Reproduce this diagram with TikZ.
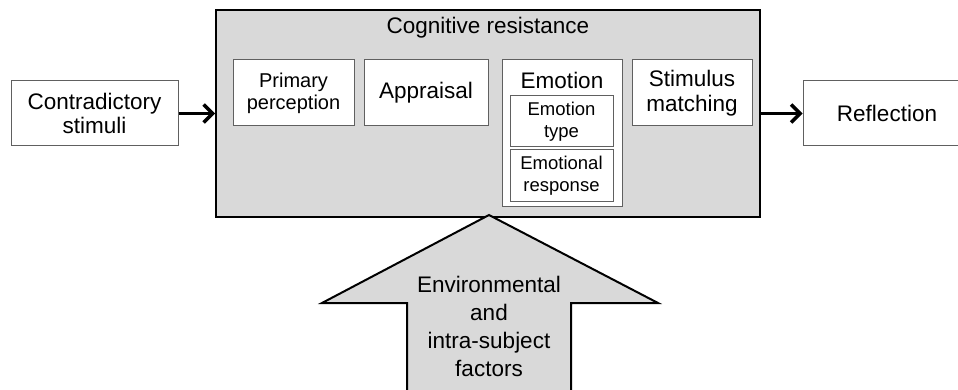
\documentclass[tikz,border=0pt]{standalone}
\usepackage{fontspec}
\setmainfont{Liberation Sans}
\usetikzlibrary{arrows.meta}
\definecolor{panel}{HTML}{D9D9D9}
\definecolor{edge}{HTML}{606060}
\tikzset{
  x=1pt, y=-1pt,
  bigfont/.style={font=\fontsize{22.5}{27.5}\selectfont},
  midfont/.style={font=\fontsize{20}{24}\selectfont},
  smallfont/.style={font=\fontsize{18.5}{22}\selectfont},
  box/.style={draw=edge, line width=1pt, fill=white, inner sep=0pt, align=center},
  panelbox/.style={draw=black, line width=2pt, fill=panel, inner sep=0pt},
  conn/.style={line width=3.5pt, -{Straight Barb[length=9pt,width=18pt,line width=3.5pt]}},
}
\begin{document}
\begin{tikzpicture}
\useasboundingbox (0,0) rectangle (958,390);
\clip (0,0) rectangle (958,390);

% main panel
\node[panelbox, minimum width=544pt, minimum height=207pt] (cog) at (488,113.5) {};
\node[bigfont] (cogtitle) at (488,28) {Cognitive resistance};

% stages inside the panel
\node[box, midfont, minimum width=121pt, minimum height=66pt] (prim) at (293.5,93) {Primary\\[-2pt]perception};
\node[box, bigfont, minimum width=124pt, minimum height=66pt] (appr) at (426,93) {Appraisal};
\node[box, minimum width=120pt, minimum height=147pt] (emo) at (562,133.5) {};
\node[bigfont] (emotitle) at (562,80) {Emotion};
\node[box, smallfont, minimum width=103pt, minimum height=51pt] (etype) at (561.5,121.5) {Emotion\\type};
\node[box, smallfont, minimum width=103pt, minimum height=52pt] (eresp) at (561.5,176) {Emotional\\response};
\node[box, bigfont, minimum width=120pt, minimum height=66pt] (stim) at (692,93) {Stimulus\\[-3pt]matching};

% input and output
\node[box, bigfont, minimum width=167pt, minimum height=65pt] (contra) at (94.5,113.5) {Contradictory\\[-3pt]stimuli};
\node[box, bigfont, minimum width=162pt, minimum height=65pt] (refl) at (884,113.5) {};
\node[bigfont] (refltext) at (887,113.5) {Reflection};

\draw[conn] (contra.east) -- (cog.west);
\draw[conn] (cog.east) -- (refl.west);

% block arrow of influencing factors
\draw[line width=2pt, fill=panel, line join=miter]
  (489,215) -- (658,303) -- (571,303) -- (571,395) -- (407,395) -- (407,303) -- (322,303) -- cycle;
\node[bigfont, align=center] (factors) at (489,326) {Environmental\\[0.5pt]and\\[0.5pt]intra-subject\\[0.5pt]factors};
\end{tikzpicture}
\end{document}
